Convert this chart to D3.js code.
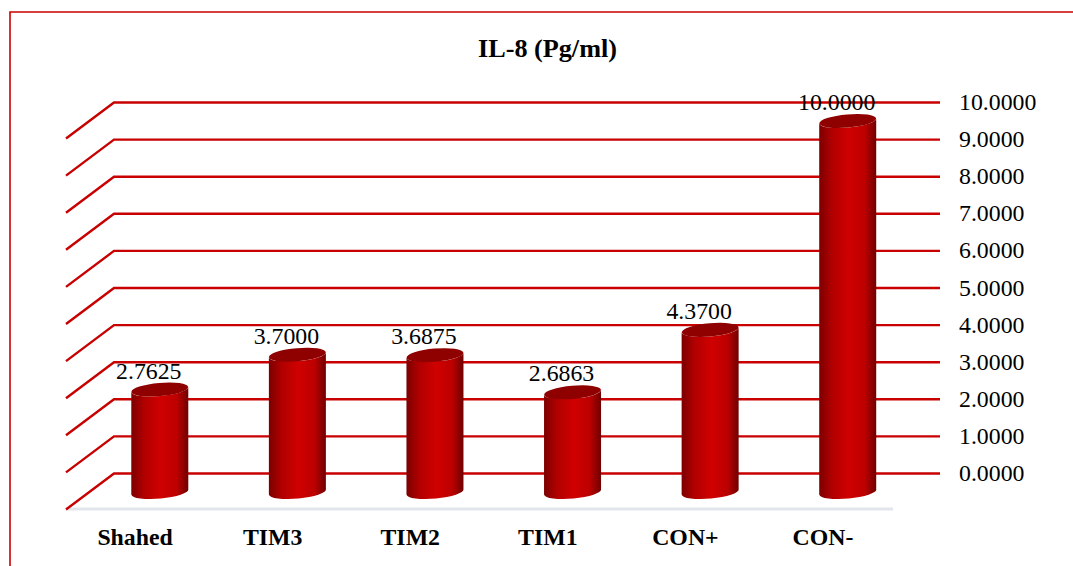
<!DOCTYPE html>
<html>
<head>
<meta charset="utf-8">
<script src="https://cdn.jsdelivr.net/npm/d3@7"></script>
<style>
  html, body { margin: 0; padding: 0; background: #fff; overflow: hidden; }
  text { font-family: "Liberation Serif", serif; fill: #000; }
</style>
</head>
<body>
<svg id="chart" width="1073" height="566"></svg>
<script>
var categories = ["Shahed", "TIM3", "TIM2", "TIM1", "CON+", "CON-"];
var values = [2.7625, 3.7, 3.6875, 2.6863, 4.37, 10];
var ticks = [0, 1, 2, 3, 4, 5, 6, 7, 8, 9, 10];

var svg = d3.select("#chart");
var red = "#c80000";

// back wall scale, the floor sits in front of it by depthX / depthY
var y = d3.scaleLinear().domain([0, 10]).range([473.5, 102.5]);
var x = d3.scaleBand().domain(categories).range([66, 891.5]);
var depthX = 48, depthY = 36;
var wallLeft = 66 + depthX, wallRight = 940;

// bars stand halfway between floor front and wall
var barShiftX = 25, barShiftY = 18.5;
var rx = 28.5, ry = 6.6, tilt = 2.6;

var defs = svg.append("defs");
var grad = defs.append("linearGradient").attr("id", "cyl");
grad.append("stop").attr("offset", "0%").attr("stop-color", "#7c0000");
grad.append("stop").attr("offset", "22%").attr("stop-color", "#b00000");
grad.append("stop").attr("offset", "52%").attr("stop-color", "#d00000");
grad.append("stop").attr("offset", "80%").attr("stop-color", "#bc0000");
grad.append("stop").attr("offset", "100%").attr("stop-color", "#700000");

// page border
svg.append("path")
  .attr("d", "M10,566V12H1073")
  .attr("fill", "none")
  .attr("stroke", red)
  .attr("stroke-width", 1.6);

svg.append("text")
  .attr("x", 547.5)
  .attr("y", 57)
  .attr("text-anchor", "middle")
  .style("font-size", "26.2px")
  .style("font-weight", "bold")
  .text("IL-8 (Pg/ml)");

// floor
svg.append("line")
  .attr("x1", 66).attr("x2", 893)
  .attr("y1", y(0) + depthY - 0.5).attr("y2", y(0) + depthY - 0.5)
  .attr("stroke", "#e2e5ec")
  .attr("stroke-width", 3);

// gridlines, each with its side wall diagonal
svg.selectAll(".grid")
  .data(ticks)
  .enter()
  .append("path")
  .attr("class", "grid")
  .attr("d", function (d) {
    return "M" + (wallLeft - depthX) + "," + (y(d) + depthY) +
      "L" + wallLeft + "," + y(d) + "H" + wallRight;
  })
  .attr("fill", "none")
  .attr("stroke", red)
  .attr("stroke-width", 2.4);

svg.selectAll(".tick-label")
  .data(ticks)
  .enter()
  .append("text")
  .attr("class", "tick-label")
  .attr("x", 959)
  .attr("y", function (d) { return y(d) + 7.5; })
  .style("font-size", "23.8px")
  .text(function (d) { return d3.format(".4f")(d); });

var bars = svg.selectAll(".bar")
  .data(categories)
  .enter()
  .append("g")
  .attr("class", "bar");

function cx(c) {
  return x(c) + x.bandwidth() / 2 + barShiftX;
}

bars.append("path")
  .attr("d", function (c, i) {
    var top = y(values[i]) + barShiftY, base = y(0) + barShiftY;
    var l = cx(c) - rx, r = cx(c) + rx;
    var arc = "A" + rx + "," + ry + " -5 0 ";
    return "M" + l + "," + (top + tilt) +
      "L" + l + "," + (base + tilt) +
      arc + "0 " + r + "," + (base - tilt) +
      "L" + r + "," + (top - tilt) +
      arc + "1 " + l + "," + (top + tilt) + "Z";
  })
  .attr("fill", "url(#cyl)");

bars.append("ellipse")
  .attr("rx", rx)
  .attr("ry", ry)
  .attr("transform", function (c, i) {
    return "translate(" + cx(c) + "," + (y(values[i]) + barShiftY) + ") rotate(-5)";
  })
  .attr("fill", "#8f0000");

svg.selectAll(".value-label")
  .data(categories)
  .enter()
  .append("text")
  .attr("class", "value-label")
  .attr("x", function (c) { return cx(c) - 11; })
  .attr("y", function (c, i) { return y(values[i]) + 7.5; })
  .attr("text-anchor", "middle")
  .style("font-size", "23.8px")
  .text(function (c, i) { return d3.format(".4f")(values[i]); });

svg.selectAll(".cat-label")
  .data(categories)
  .enter()
  .append("text")
  .attr("class", "cat-label")
  .attr("x", function (c) { return x(c) + x.bandwidth() / 2 + 0.3; })
  .attr("y", 545)
  .attr("text-anchor", "middle")
  .style("font-size", "23.8px")
  .style("font-weight", "bold")
  .text(function (c) { return c; });
</script>
</body>
</html>
